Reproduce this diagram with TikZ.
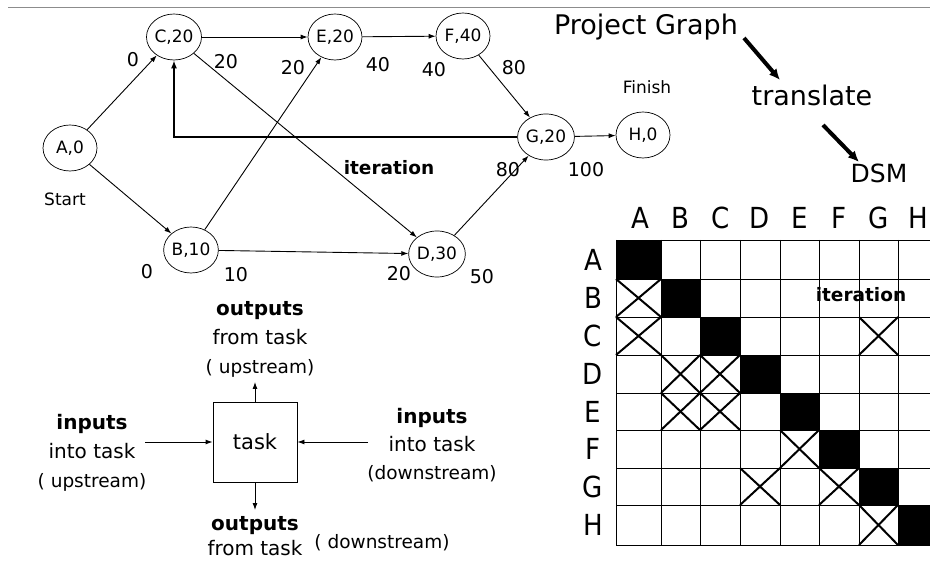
\documentclass[tikz,border=0pt]{standalone}
\usepackage{fontspec}
\setmainfont{DejaVu Sans}
\newfontfamily\condfont{DejaVu Sans Condensed}
\usetikzlibrary{arrows.meta,positioning,shapes.geometric,calc}

\begin{document}
\begin{tikzpicture}[x=1pt,y=-1pt,
  every node/.style={inner sep=0pt},
  actnode/.style={draw,ellipse,line width=0.7pt,minimum width=54pt,minimum height=46pt,font=\fontsize{17}{20}\selectfont},
  lbl/.style={font=\fontsize{19}{22}\selectfont},
  small/.style={font=\fontsize{17}{20}\selectfont},
  big/.style={font=\fontsize{27}{30}\selectfont},
  note/.style={align=center,font=\fontsize{20}{29}\selectfont},
  arr/.style={-{Latex[length=7pt,width=5pt]},line width=0.9pt},
  iter/.style={-{Latex[length=8pt,width=6pt]},line width=2.6pt},
  bigarr/.style={-{Latex[length=11pt,width=10pt]},line width=4pt},
  hdr/.style={font=\condfont\fontsize{29}{30}\selectfont},
  cell/.style={line width=0.9pt},
  cross/.style={line width=2pt}]
  \useasboundingbox (0,0) rectangle (930,561);
  \draw[black!45,line width=0.8pt] (8,7) -- (930,7);

  % project graph
  \node[actnode] (a) at (70,148) {A,0};
  \node[actnode] (c) at (174,37) {C,20};
  \node[actnode] (e) at (335,37) {E,20};
  \node[actnode] (f) at (463,36) {F,40};
  \node[actnode] (b) at (191,250) {B,10};
  \node[actnode] (d) at (437,254) {D,30};
  \node[actnode] (g) at (546,137) {G,20};
  \node[actnode] (h) at (643,135) {H,0};
  \draw[arr] (a) -- (c); \draw[arr] (a) -- (b); \draw[arr] (c) -- (e); \draw[arr] (e) -- (f);
  \draw[arr] (c) -- (d); \draw[arr] (b) -- (e); \draw[arr] (b) -- (d); \draw[arr] (f) -- (g);
  \draw[arr] (d) -- (g); \draw[arr] (g) -- (h);
  \draw[iter] (g.west) -| (c.south);

  \node[lbl] (l0c) at (133,60) {0};
  \node[lbl] (l20c) at (226,62) {20};
  \node[lbl] (l20e) at (293,68) {20};
  \node[lbl] (l40e) at (378,65) {40};
  \node[lbl] (l40f) at (434,70) {40};
  \node[lbl] (l80f) at (514,68) {80};
  \node[lbl] (l0b) at (147,272) {0};
  \node[lbl] (l10b) at (236,275) {10};
  \node[lbl] (l20d) at (399,274) {20};
  \node[lbl] (l50d) at (482,277) {50};
  \node[lbl] (l80g) at (508,170) {80};
  \node[lbl] (l100g) at (586,170) {100};
  \node[small] (start) at (65,199) {Start};
  \node[small] (finish) at (647,87) {Finish};
  \node[font=\bfseries\fontsize{18.5}{20}\selectfont] (itg) at (389,168) {iteration};

  % translate
  \node[big] (pg) at (646,27) {Project Graph};
  \node[big] (tr) at (812,95) {translate};
  \node[font=\fontsize{25}{28}\selectfont] (dsm) at (879,173) {DSM};
  \coordinate (pgout) at (744,38); \coordinate (trin) at (780,80);
  \coordinate (trout) at (823,125); \coordinate (dsmin) at (859,162);
  \draw[bigarr] (pgout) -- (trin);
  \draw[bigarr] (trout) -- (dsmin);

  % dsm
  \foreach \x [count=\i from 0] in {616,661,700,740,780,819,859,898,930}
    \coordinate (cx\i) at (\x,0);
  \foreach \y [count=\j from 0] in {240,279,317,355,393,430,468,505,545}
    \coordinate (ry\j) at (0,\y);
  \foreach \i [count=\k from 1] in {0,...,7}
    \fill (cx\i |- ry\i) rectangle (cx\k |- ry\k);
  \foreach \i in {0,...,7}
    \draw[cell] (cx\i |- ry0) -- (cx\i |- ry8);
  \foreach \j in {0,...,8}
    \draw[cell] (cx0 |- ry\j) -- (cx8 |- ry\j);
  \foreach \c/\r [evaluate=\c as \cn using int(\c+1), evaluate=\r as \rn using int(\r+1)]
      in {0/1,0/2,6/2,1/3,2/3,1/4,2/4,4/5,3/6,5/6,6/7}
    \draw[cross] (cx\c |- ry\r) -- (cx\cn |- ry\rn) (cx\cn |- ry\r) -- (cx\c |- ry\rn);
  \foreach \l/\x in {A/640,B/680,C/721,D/760,E/800,F/839,G/879,H/918}
    \node[hdr] (col\l) at (\x,218) {\l};
  \foreach \l/\y in {A/260,B/298,C/336,D/374,E/412,F/449,G/487,H/525}
    \node[hdr] (row\l) at (593,\y) {\l};
  \node[font=\bfseries\fontsize{18.5}{20}\selectfont] (itd) at (861,295) {iteration};

  % task box
  \node[draw,line width=0.9pt,minimum width=84pt,minimum height=80pt,font=\fontsize{21}{24}\selectfont] (task) at (255,442) {task};
  \coordinate (inl) at (145,442); \coordinate (inr) at (368,442);
  \coordinate (outu) at (255,382); \coordinate (outd) at (255,510);
  \draw[arr] (inl) -- (task); \draw[arr] (inr) -- (task);
  \draw[arr] (task) -- (outu); \draw[arr] (task) -- (outd);
  \node[note] (uptxt) at (260,339) {\textbf{outputs}\\from task\\{\fontsize{18.5}{29}\selectfont( upstream)}};
  \node[note] (lefttxt) at (92,453) {\textbf{inputs}\\into task\\{\fontsize{18.5}{29}\selectfont( upstream)}};
  \node[note,font=\fontsize{20}{28}\selectfont] (righttxt) at (432,445) {\textbf{inputs}\\into task\\{\fontsize{18.5}{28}\selectfont(downstream)}};
  \node[note,font=\fontsize{20}{25}\selectfont] (downtxt) at (255,536) {\textbf{outputs}\\from task};
  \node[font=\fontsize{18.5}{20}\selectfont] (downlbl) at (382,543) {( downstream)};
\end{tikzpicture}
\end{document}
